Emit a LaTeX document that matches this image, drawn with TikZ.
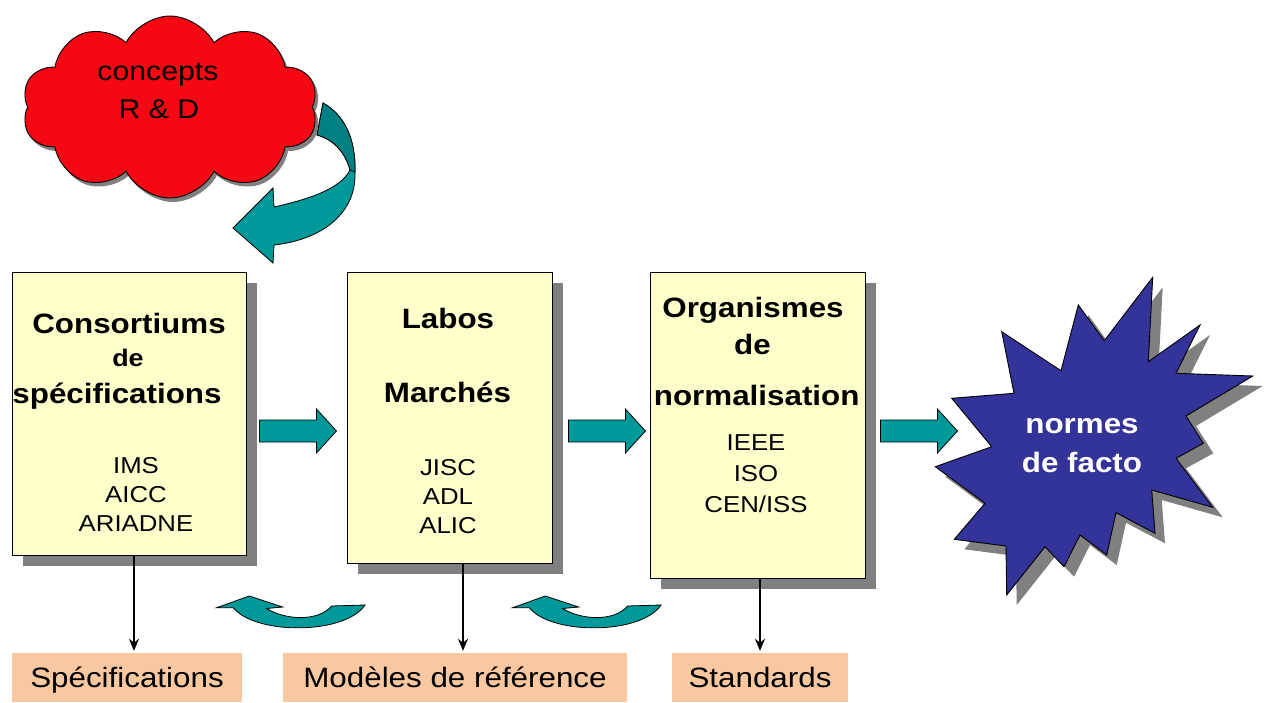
\documentclass[tikz,border=0pt]{standalone}
\usepackage{fontspec}
\setmainfont{Liberation Sans}[FakeStretch=1.12]
\usepackage{tikz}
\usetikzlibrary{arrows.meta, positioning, calc, shapes, shadows}

\definecolor{cloudred}{RGB}{245,8,20}
\definecolor{boxyellow}{RGB}{255,255,204}
\definecolor{arrowteal}{RGB}{0,153,153}
\definecolor{arrowdark}{RGB}{0,128,128}
\definecolor{starblue}{RGB}{51,51,153}
\definecolor{labelpeach}{RGB}{250,200,160}
\definecolor{shadowgray}{RGB}{128,128,128}

\tikzset{
    stage/.style={draw, line width=0.9pt, fill=boxyellow, inner sep=0pt,
        drop shadow={shadow xshift=11pt, shadow yshift=-11pt, fill=shadowgray, opacity=1}},
    heading/.style={anchor=base, font=\bfseries\fontsize{28}{34}\selectfont},
    entry/.style={anchor=base, font=\fontsize{23}{28}\selectfont},
    outcome/.style={fill=labelpeach, minimum height=49pt, inner sep=0pt,
        text height=20pt, text depth=0pt, font=\fontsize{28}{34}\selectfont},
    blockarrow/.style={draw, line width=0.8pt, fill=arrowteal},
    feed/.style={-{Stealth[length=12pt, width=10pt]}, line width=1.6pt, shorten >=2pt},
}

\newcommand{\burstpath}{(1152.7,277.3) -- (1148.3,361.7) -- (1200,325) -- (1176,373.3) -- (1252.7,376) -- (1186,416) -- (1203.3,443.3) -- (1176,458.3) -- (1212.7,507.3) -- (1151.7,490) -- (1155,533.3) -- (1116,512.7) -- (1106.7,555) -- (1080,535) -- (1064,566.7) -- (1045,546.7) -- (1006.7,595) -- (1006,546) -- (954.3,539.3) -- (985,503.3) -- (935.3,466.7) -- (991.7,446.7) -- (951.7,398.3) -- (1014,393.3) -- (1001.7,331.7) -- (1061,370.7) -- (1078.3,305) -- (1104.3,340.7) -- cycle}

\begin{document}
\begin{tikzpicture}[x=1pt, y=-1pt]
    \useasboundingbox (0,0) rectangle (1266,702);

    % curved arrow out of the cloud
    \draw[blockarrow] (323,103) .. controls (345,115) and (356,140) .. (355,175)
        .. controls (355,215) and (320,240) .. (274,245) -- (273,263) -- (233,228) -- (273,188) -- (274,207)
        .. controls (305,200) and (340,190) .. (350,170) .. controls (345,150) and (330,138) .. (317,135) -- cycle;
    \draw[blockarrow, fill=arrowdark] (323,103) .. controls (345,115) and (356,140) .. (355,172) -- (350,170)
        .. controls (345,150) and (330,138) .. (317,135) -- cycle;

    \node[cloud, cloud puffs=10, cloud puff arc=125, cloud ignores aspect, minimum width=296pt, minimum height=182pt,
        draw, line width=0.9pt, fill=cloudred,
        drop shadow={shadow xshift=3pt, shadow yshift=-4pt, fill=shadowgray, opacity=1}] (rd) at (170,107) {};
    \node[anchor=base, font=\fontsize{27}{32}\selectfont] (rdA) at (158,80) {concepts};
    \node[anchor=base, font=\fontsize{27}{32}\selectfont] (rdB) at (159,118) {R \& D};

    % the three stages
    \node[stage, minimum width=234pt, minimum height=283pt] (cons) at (129,413.5) {};
    \node[stage, minimum width=205pt, minimum height=291pt] (labo) at (449.5,417.5) {};
    \node[stage, minimum width=215pt, minimum height=306pt] (orga) at (757.5,425) {};

    \node[heading] (consA) at (129,333) {Consortiums};
    \node[heading, font=\bfseries\fontsize{24}{28}\selectfont] (consB) at (128,366) {de};
    \node[heading] (consC) at (117,403) {spécifications};
    \foreach \t [count=\i] in {IMS, AICC, ARIADNE}
        \node[entry] (consL\i) at (136,444+29*\i) {\t};

    \node[heading] (laboA) at (448,328) {Labos};
    \node[heading] (laboB) at (447.5,402) {Marchés};
    \foreach \t [count=\i] in {JISC, ADL, ALIC}
        \node[entry] (laboL\i) at (448,446+29*\i) {\t};

    \node[heading] (orgaA) at (753,317) {Organismes};
    \node[heading] (orgaB) at (752.5,354) {de};
    \node[heading] (orgaC) at (756.7,405) {normalisation};
    \foreach \t [count=\i] in {IEEE, ISO, CEN/ISS}
        \node[entry] (orgaL\i) at (756,419+31*\i) {\t};

    % star
    \fill[shadowgray, xshift=10pt, yshift=-10pt] \burstpath;
    \draw[line width=0.9pt, fill=starblue] \burstpath;
    \node[heading, text=white] (factoA) at (1082,433) {normes};
    \node[heading, text=white] (factoB) at (1082,472) {de facto};

    % block arrows between stages
    \coordinate (flow) at (0,431);
    \foreach \a/\d in {cons/13, labo/16, orga/15}
        \draw[blockarrow] ($(\a.east |- flow)+(\d,-11)$) -- ++(57,0) -- ++(0,-11) -- ++(20,22)
            -- ++(-20,22) -- ++(0,-11) -- ++(-57,0) -- cycle;

    % outcomes
    \node[outcome, minimum width=230pt] (spec) at (127,677.5) {Spécifications};
    \node[outcome, minimum width=344pt] (mod) at (455,677.5) {Modèles de référence};
    \node[outcome, minimum width=176pt] (std) at (760,677.5) {Standards};

    \draw[feed] ([xshift=5pt]cons.south) -- ([xshift=5pt]cons.south |- spec.north);
    \draw[feed] ([xshift=13.5pt]labo.south) -- ([xshift=13.5pt]labo.south |- mod.north);
    \draw[feed] ([xshift=2.5pt]orga.south) -- ([xshift=2.5pt]orga.south |- std.north);

    % small return arrows
    \foreach \dx in {0,296}
        \draw[blockarrow, xshift=\dx pt] (365,605) -- (331.7,606) .. controls (318,622) and (285,620) .. (266.7,608.5)
            -- (282.7,607) -- (249.3,596) -- (216.7,607.7) -- (233.3,607.7)
            .. controls (255,635) and (345,635) .. (365,605) -- cycle;
\end{tikzpicture}
\end{document}
